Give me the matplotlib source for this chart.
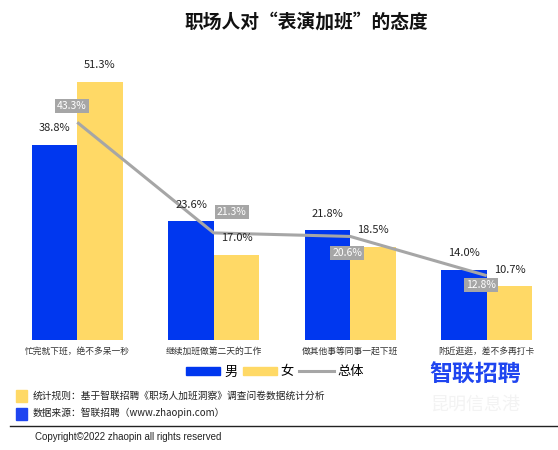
import matplotlib.pyplot as plt
import matplotlib.patches as mpatches
from matplotlib.lines import Line2D

plt.rcParams['font.family'] = ['Noto Sans CJK SC', 'DejaVu Sans']

categories = ["忙完就下班，绝不多呆一秒", "继续加班做第二天的工作", "做其他事等同事一起下班", "附近逛逛，差不多再打卡"]
male = [38.8, 23.6, 21.8, 14.0]
female = [51.3, 17.0, 18.5, 10.7]
total = [43.3, 21.3, 20.6, 12.8]
# offsets of the total labels in points (dx, dy)
total_offsets = [(-4, 12), (13, 15), (-2, -12), (-4, -7)]

BLUE = "#0037EF"
YELLOW = "#FFD966"
GRAY = "#A6A6A6"

fig = plt.figure(figsize=(5.58, 4.5), dpi=100)
ax = fig.add_axes([9 / 558, 110 / 450, 546 / 558, 280 / 450])

x = list(range(len(categories)))
w = 0.333
ax.bar([i - w / 2 for i in x], male, width=w, color=BLUE, zorder=2)
ax.bar([i + w / 2 for i in x], female, width=w, color=YELLOW, zorder=2)
ax.plot(x, total, color=GRAY, lw=2.2, zorder=3, solid_capstyle='butt')

for i in x:
    ax.annotate(f"{male[i]:.1f}%", (i - w / 2, male[i]), xytext=(0, 12), textcoords="offset points",
                ha="center", va="center", fontsize=8, color="#222222")
    ax.annotate(f"{female[i]:.1f}%", (i + w / 2, female[i]), xytext=(0, 12), textcoords="offset points",
                ha="center", va="center", fontsize=8, color="#222222")
    dx, dy = total_offsets[i]
    ax.annotate(f"{total[i]:.1f}%", (i, total[i]), xytext=(dx, dy), textcoords="offset points",
                ha="center", va="center", fontsize=7.5, color="white", zorder=4,
                bbox=dict(boxstyle="square,pad=0.2", fc=GRAY, ec="none"))
    ax.text(i, -1.3, categories[i], ha="center", va="top", fontsize=6.3, color="#333333")

ax.set_xlim(-0.5, 3.5)
ax.set_ylim(0, 55.7)
ax.axis("off")

fig.text(306 / 558, 1 - 22 / 450, "职场人对“表演加班”的态度", ha="center", va="center",
         fontsize=13.5, fontweight="bold", color="#111111")

handles = [mpatches.Patch(color=BLUE, label="男"), mpatches.Patch(color=YELLOW, label="女"),
           Line2D([], [], color=GRAY, lw=2.2, label="总体")]
fig.legend(handles=handles, loc="center", bbox_to_anchor=(275 / 558, 1 - 372 / 450), ncol=3,
           frameon=False, fontsize=9.5, handlelength=2.6, handleheight=0.6, columnspacing=0.4,
           handletextpad=0.3)

fig.patches.append(mpatches.Rectangle((16 / 558, 1 - 402 / 450), 11 / 558, 12 / 450,
                                      transform=fig.transFigure, color=YELLOW))
fig.patches.append(mpatches.Rectangle((16 / 558, 1 - 420 / 450), 11 / 558, 12 / 450,
                                      transform=fig.transFigure, color="#1F45F0"))
fig.text(33 / 558, 1 - 396 / 450, "统计规则：基于智联招聘《职场人加班洞察》调查问卷数据统计分析",
         ha="left", va="center", fontsize=7, color="#222222")
fig.text(33 / 558, 1 - 413 / 450, "数据来源：智联招聘（www.zhaopin.com）",
         ha="left", va="center", fontsize=7, color="#222222")

fig.text(475 / 558, 1 - 375 / 450, "智联招聘", ha="center", va="center", fontsize=16.5,
         fontweight="bold", color="#1F45F0")
fig.text(475 / 558, 1 - 405 / 450, "昆明信息港", ha="center", va="center", fontsize=13,
         color="#F3F3F3", zorder=0)

fig.add_artist(Line2D([10 / 558, 1], [1 - 426 / 450, 1 - 426 / 450], transform=fig.transFigure,
                      color="#222222", lw=1))
fig.text(35 / 558, 1 - 437 / 450, "Copyright©2022 zhaopin all rights reserved", ha="left",
         va="center", fontsize=7, color="#222222", family=["Liberation Sans", "DejaVu Sans"])

fig.savefig("out.png", dpi=100)
